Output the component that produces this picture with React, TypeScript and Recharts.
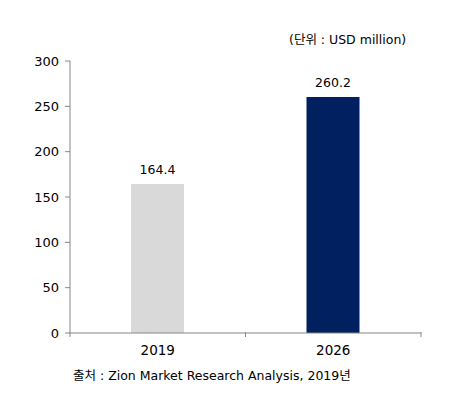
import React from "react";
import { Bar, BarChart, Cell, LabelList, XAxis, YAxis } from "recharts";

const years = ["2019", "2026"];
const marketSize = [164.4, 260.2];
const barColors = ["#D9D9D9", "#002060"];
const yTicks = [0, 50, 100, 150, 200, 250, 300];

const data = years.map((year, i) => ({ year, value: marketSize[i] }));

const font = "'DejaVu Sans', 'Noto Sans CJK KR', sans-serif";
const axisColor = "#868686";

// category label plus Excel-style tick marks on the category boundaries
function YearTick(props: any) {
  const { x, y, payload, index, visibleTicksCount } = props;
  const half = payload?.offset ?? 0;
  const isLast = index === (visibleTicksCount ?? years.length) - 1;
  return (
    <g>
      <line x1={x - half} x2={x - half} y1={y - 1} y2={y + 4} stroke={axisColor} />
      {isLast && <line x1={x + half} x2={x + half} y1={y - 1} y2={y + 4} stroke={axisColor} />}
      <text x={x} y={y + 22} textAnchor="middle" fill="#000" fontSize={13.5} fontFamily={font}>
        {payload.value}
      </text>
    </g>
  );
}

export default function App() {
  return (
    <div style={{ position: "absolute", left: 0, top: 0, width: 452, height: 401, background: "#fff", fontFamily: font }}>
      <div style={{ position: "absolute", left: 289, top: 29, fontSize: 12.5, color: "#000", whiteSpace: "nowrap" }}>
        (단위 : USD million)
      </div>
      <BarChart width={452} height={401} data={data} margin={{ top: 61, right: 31, bottom: 38, left: 10 }}>
        <YAxis
          domain={[0, 300]}
          ticks={yTicks}
          width={60}
          tickSize={5}
          tickMargin={6}
          axisLine={{ stroke: axisColor }}
          tickLine={{ stroke: axisColor }}
          tick={{ fill: "#000", fontSize: 13, fontFamily: font }}
        />
        <XAxis
          dataKey="year"
          height={30}
          tickSize={0}
          tickMargin={0}
          axisLine={{ stroke: axisColor }}
          tickLine={false}
          tick={<YearTick />}
        />
        <Bar dataKey="value" barSize={53} isAnimationActive={false}>
          {data.map((d, i) => (
            <Cell key={d.year} fill={barColors[i]} />
          ))}
          <LabelList dataKey="value" position="top" offset={10} fill="#000" fontSize={12.5} fontFamily={font} />
        </Bar>
      </BarChart>
      <div style={{ position: "absolute", left: 73, top: 365, fontSize: 12.5, color: "#000", whiteSpace: "nowrap" }}>
        출처 : Zion Market Research Analysis, 2019년
      </div>
    </div>
  );
}
